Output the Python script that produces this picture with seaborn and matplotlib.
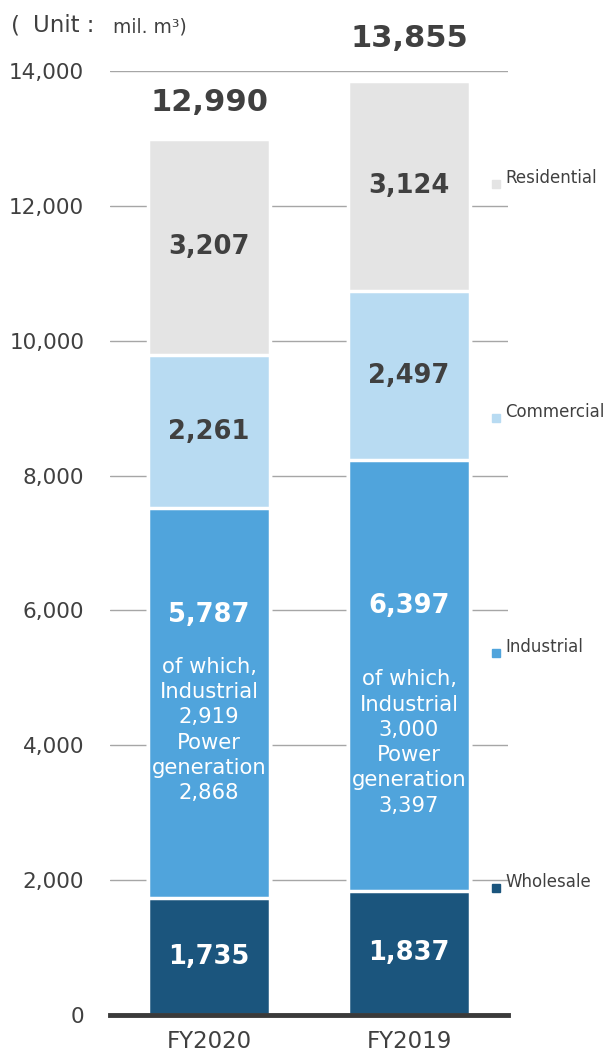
import numpy as np
import pandas as pd
import matplotlib
matplotlib.use("Agg")
import matplotlib.pyplot as plt
import matplotlib.transforms as mtransforms
import seaborn as sns

# Gas sales volume by customer segment (mil. m3)
years = ["FY2020", "FY2019"]
wholesale = [1735, 1837]
industrial = [5787, 6397]
commercial = [2261, 2497]
residential = [3207, 3124]
totals = [12990, 13855]
industrial_only = [2919, 3000]
power_generation = [2868, 3397]

segments = ["Wholesale", "Industrial", "Commercial", "Residential"]
colors = {"Wholesale": "#1b557d", "Industrial": "#50a4dc",
          "Commercial": "#b8dbf2", "Residential": "#e4e4e4"}
text_dark = "#404040"

sns.set_theme(style="white")
plt.rcParams["font.family"] = ["DejaVu Sans"]

layers = pd.DataFrame({"year": years, "Wholesale": wholesale, "Industrial": industrial,
                       "Commercial": commercial, "Residential": residential})
cum = layers[segments].cumsum(axis=1)
cum["year"] = years

fig = plt.figure(figsize=(6.04, 10.52), dpi=100)
ax = fig.add_axes([110 / 604, 37 / 1052, 398 / 604, 944 / 1052])

# stacked bars: draw cumulative heights from the top segment down
for seg in reversed(segments):
    sns.barplot(data=cum, x="year", y=seg, order=years, color=colors[seg],
                width=0.61, edgecolor="white", linewidth=2.5, saturation=1,
                ax=ax, zorder=2)

ax.set_xlim(-0.495, 1.495)
ax.set_ylim(0, 14000)
ax.set_yticks(np.arange(0, 14001, 2000))
ax.set_yticklabels([f"{v:,}" for v in range(0, 14001, 2000)])
ax.set_xlabel("")
ax.set_ylabel("")
ax.yaxis.grid(True, color="#a6a6a6", linewidth=1)
ax.set_axisbelow(True)
for s in ["top", "right", "left"]:
    ax.spines[s].set_visible(False)
ax.spines["bottom"].set_color("#3a3a3a")
ax.spines["bottom"].set_linewidth(3.5)
ax.spines["bottom"].set_zorder(5)
ax.tick_params(axis="both", length=0, colors=text_dark)
ax.tick_params(axis="y", pad=18.5, labelsize=15.5)
ax.tick_params(axis="x", pad=11, labelsize=16.5)

# totals above the bars
total_offsets = [16, 20]
for i, t in enumerate(totals):
    ax.annotate(f"{t:,}", (i, t), xytext=(0, total_offsets[i]), textcoords="offset points",
                ha="center", va="bottom", fontsize=22, fontweight="bold", color=text_dark)

# segment values
bottoms = cum[segments].values - layers[segments].values
for i in range(len(years)):
    for j, seg in enumerate(segments):
        if seg == "Industrial":
            continue
        val = layers[seg].iloc[i]
        mid = bottoms[i, j] + val / 2
        col = "white" if seg == "Wholesale" else text_dark
        ax.text(i, mid, f"{val:,}", ha="center", va="center", fontsize=18.5,
                fontweight="bold", color=col, zorder=6)

# industrial breakdown
bold_shift = [88, 69]
sub_shift = [-27, -67]
for i in range(len(years)):
    val = industrial[i]
    mid = bottoms[i, 1] + val / 2
    ax.annotate(f"{val:,}", (i, mid), xytext=(0, bold_shift[i] * 0.72), textcoords="offset points",
                ha="center", va="center", fontsize=18.5, fontweight="bold", color="white", zorder=6)
    sub = (f"of which,\nIndustrial\n{industrial_only[i]:,}\nPower\n"
           f"generation\n{power_generation[i]:,}")
    ax.annotate(sub, (i, mid), xytext=(0, sub_shift[i] * 0.72), textcoords="offset points",
                ha="center", va="center", fontsize=15.2, color="white", linespacing=1.33,
                zorder=6)

# segment key on the right
key_y = [12420, 8950, 5460, 1975]
trans = mtransforms.blended_transform_factory(ax.transAxes, ax.transData)
for seg, y in zip(reversed(segments), key_y):
    ax.plot([0.970], [y - 90], marker="s", markersize=5.5, color=colors[seg],
            transform=trans, clip_on=False, zorder=6)
    ax.text(0.993, y, seg, transform=trans, ha="left", va="center", fontsize=12,
            color=text_dark, clip_on=False, zorder=6)

# unit note
fig.text(11 / 604, 1 - 26 / 1052, "(", fontsize=16.5, color=text_dark,
         ha="left", va="center")
fig.text(33 / 604, 1 - 26 / 1052, "Unit :", fontsize=16.5, color=text_dark,
         ha="left", va="center")
fig.text(113 / 604, 1 - 27 / 1052, "mil. m³)", fontsize=13.5, color=text_dark,
         ha="left", va="center")

fig.savefig("out.png", dpi=100)
